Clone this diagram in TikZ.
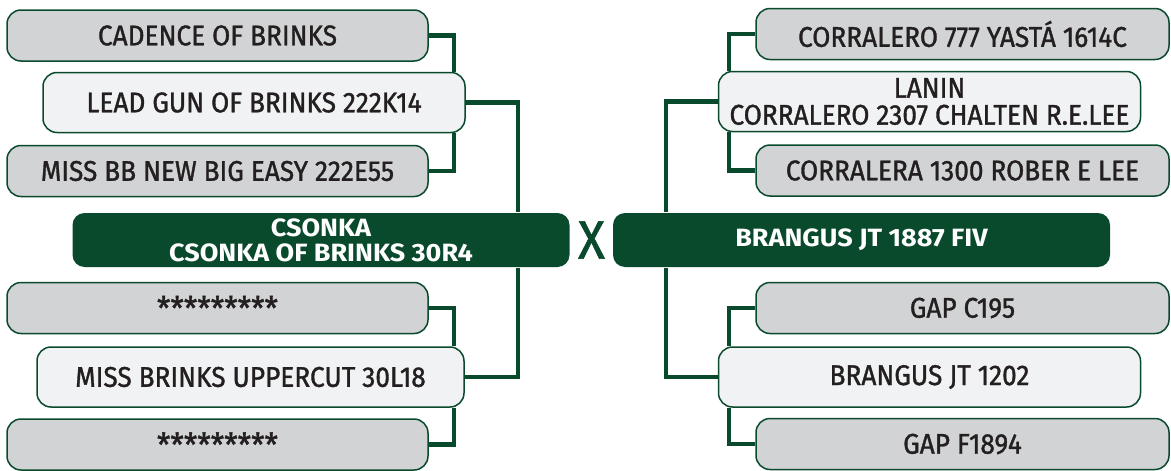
\documentclass[tikz,border=0pt]{standalone}
\usepackage{fontspec}
\setmainfont{Fira Sans}[FakeStretch=0.92, FakeBold=1.2]
\newfontfamily\headfont{Fira Sans}[FakeStretch=1.08]
\usepackage{tikz}
\usetikzlibrary{positioning, calc}
\definecolor{dkgreen}{HTML}{0A4A2C}
\definecolor{boxgrey}{HTML}{D1D3D4}
\definecolor{boxpale}{HTML}{F1F2F3}
\definecolor{ink}{HTML}{231F20}
\newcommand{\hidden}{{\fontsize{33}{33}\selectfont\raisebox{-4pt}{*********}}}

\begin{document}
\begin{tikzpicture}[x=1pt, y=-1pt, box/.style={draw=dkgreen, line width=1.5pt, rounded corners=14pt, align=center, inner sep=0pt, text=ink, font=\fontsize{28.5}{27}\selectfont}, grey/.style={box, fill=boxgrey, minimum width=421pt, minimum height=51pt}, pale/.style={box, fill=boxpale, minimum width=422pt, minimum height=60pt}, main/.style={box, fill=dkgreen, draw=none, rounded corners=12pt, text=white, minimum width=497pt, minimum height=54pt, font=\headfont\fontsize{25}{25}\selectfont\bfseries}, link/.style={draw=dkgreen, line width=4.5pt}]
      \useasboundingbox (0,0) rectangle (1171,471);
      % dam side
      \node[grey] (cad) at (217.5,35.5) {CADENCE OF BRINKS}; \node[pale] (lead)
      at (254,102.5) {LEAD GUN OF BRINKS 222K14}; \node[grey] (missbb) at
      (217.5,171) {MISS BB NEW BIG EASY 222E55}; \node[main] (csonka) at
      (321,240) {CSONKA\\CSONKA OF BRINKS 30R4}; \node[grey] (stara) at
      (217.5,308) {\hidden}; \node[pale, minimum width=427pt] (upper) at
      (250.5,377) {MISS BRINKS UPPERCUT 30L18}; \node[grey] (starb) at
      (217.5,444.5) {\hidden};

      % sire side
      \node[grey, minimum width=413pt] (corr) at (962.5,34) {CORRALERO 777
      YASTÁ 1614C}; \node[pale] (lanin) at (929.5,101.5) {LANIN\\CORRALERO
      2307 CHALTEN R.E.LEE}; \node[grey, minimum width=413pt] (corra) at
      (962.5,170.5) {CORRALERA 1300 ROBER E LEE}; \node[main] (brangus) at
      (861.5,240) {BRANGUS JT 1887 FIV}; \node[grey, minimum width=413pt]
      (gapc) at (962.5,308) {GAP C195}; \node[pale] (jt) at (929.5,377)
      {BRANGUS JT 1202}; \node[grey, minimum width=413pt] (gapf) at
      (962.5,444) {GAP F1894};

      \node[text=dkgreen, font=\fontsize{54}{54}\selectfont] (cross) at
      (591.5,240) {X};

      \coordinate (lx) at (454,0); \coordinate (lmx) at (518,0);
      \coordinate (rx) at (729,0); \coordinate (rmx) at (666,0);

      \draw[link] (cad) -| (lx |- lead.north); \draw[link] (missbb) -| (lx
      |- lead.south); \draw[link] (lead) -| (lmx |- csonka.north);
      \draw[link] (stara) -| (lx |- upper.north); \draw[link] (starb) -| (lx
      |- upper.south); \draw[link] (upper) -| (lmx |- csonka.south);
      \draw[link] (corr) -| (rx |- lanin.north); \draw[link] (corra) -| (rx
      |- lanin.south); \draw[link] (lanin) -| (rmx |- brangus.north);
      \draw[link] (gapc) -| (rx |- jt.north); \draw[link] (gapf) -| (rx |-
      jt.south); \draw[link] (jt) -| (rmx |- brangus.south);
    \end{tikzpicture}
\end{document}
